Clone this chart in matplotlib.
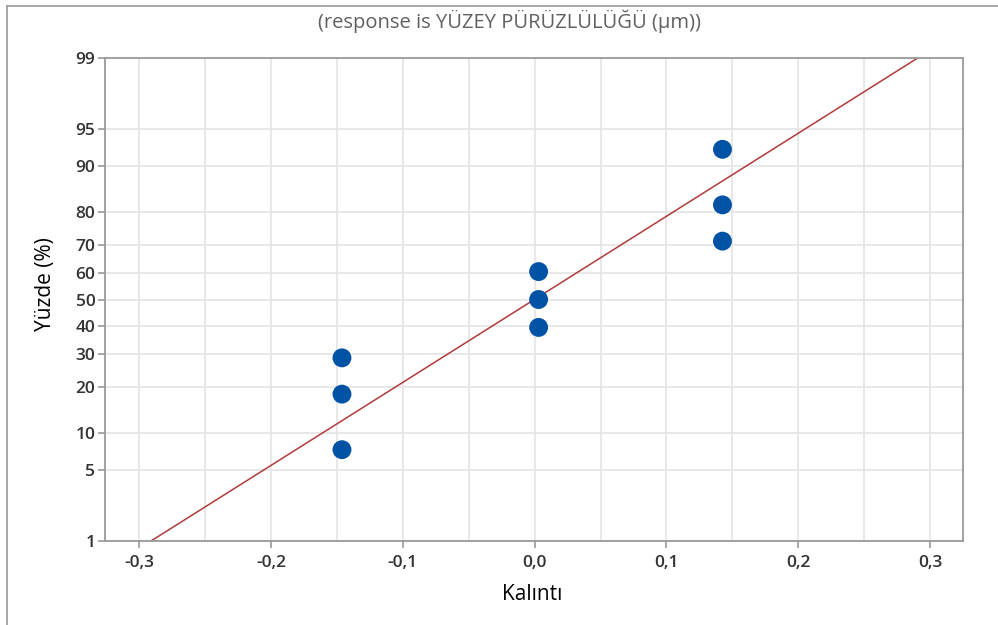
from statistics import NormalDist

import numpy as np
import matplotlib
matplotlib.use("Agg")
import matplotlib.pyplot as plt
from matplotlib.lines import Line2D
from matplotlib.ticker import FixedLocator, MultipleLocator, FuncFormatter, NullLocator

# residuals (Kalinti) and their normal plotting positions (Yuzde, %)
residuals = [-0.1462, -0.1462, -0.1462, 0.0030, 0.0030, 0.0030, 0.1425, 0.1425, 0.1425]
percents = [7.4, 18.1, 28.7, 39.4, 50.0, 60.6, 71.3, 81.9, 92.6]
y_ticks = [1, 5, 10, 20, 30, 40, 50, 60, 70, 80, 90, 95, 99]

title = "(response is YÜZEY PÜRÜZLÜLÜĞÜ (µm))"
xlabel = "Kalıntı"
ylabel = "Yüzde (%)"

plt.rcParams['font.family'] = ['Open Sans', 'DejaVu Sans']

_nd = NormalDist()
_ppf = np.vectorize(_nd.inv_cdf, otypes=[float])
_cdf = np.vectorize(_nd.cdf, otypes=[float])


def prob_fwd(p):
    p = np.clip(np.asarray(p, dtype=float) / 100.0, 1e-9, 1 - 1e-9)
    return _ppf(p)


def prob_inv(z):
    return _cdf(np.asarray(z, dtype=float)) * 100.0


fig = plt.figure(figsize=(9.98, 6.25), dpi=100)
ax = fig.add_axes([105 / 998, 1 - 541 / 625, 858 / 998, 483 / 625])
ax.set_yscale('function', functions=(prob_fwd, prob_inv))
ax.set_ylim(1, 99)
ax.set_xlim(-0.326, 0.325)

# fitted normal line from the residuals
mu = np.mean(residuals)
sd = np.std(residuals, ddof=1)
fit = NormalDist(mu, sd)
line_p = [1, 99]
line_x = [fit.inv_cdf(p / 100) for p in line_p]
ax.plot(line_x, line_p, color='#b03a3a', lw=1.1, zorder=2)

ax.scatter(residuals, percents, s=185, color='#0052a5', edgecolors='none', zorder=3)

ax.yaxis.set_major_locator(FixedLocator(y_ticks))
ax.yaxis.set_minor_locator(NullLocator())
ax.yaxis.set_major_formatter(FuncFormatter(lambda v, _: f"{v:g}"))
ax.xaxis.set_major_locator(MultipleLocator(0.1))
ax.xaxis.set_minor_locator(MultipleLocator(0.05))
ax.xaxis.set_major_formatter(FuncFormatter(lambda v, _: f"{round(v, 1) + 0:.1f}".replace('.', ',')))

ax.grid(True, which='major', color='#e6e6e6', lw=1.3)
ax.grid(True, which='minor', axis='x', color='#e6e6e6', lw=1.3)
ax.set_axisbelow(True)

for sp in ax.spines.values():
    sp.set_color('#9a9a9a')
    sp.set_linewidth(1.3)
ax.tick_params(which='major', length=5, width=1.2, color='#9a9a9a', labelcolor='#333333',
               labelsize=12.5, pad=2)
ax.tick_params(which='minor', length=0)
ax.tick_params(axis='x', pad=5)
for lab in ax.get_xticklabels() + ax.get_yticklabels():
    lab.set_fontweight('semibold')

fig.text(0.511, 1 - 21 / 625, title, ha='center', va='center', fontsize=14.5, color='#606060')
fig.text(532 / 998, 1 - 595 / 625, xlabel, ha='center', va='center', fontsize=15, color='#000000')
fig.text(45 / 998, 1 - 284 / 625, ylabel, ha='center', va='center', rotation=90,
         fontsize=15, color='#000000')

# outer frame of the graph window
fig.add_artist(Line2D([7 / 998, 7 / 998], [0, 1 - 6 / 625], transform=fig.transFigure,
                      color='#a0a0a0', lw=1.3))
fig.add_artist(Line2D([7 / 998, 1], [1 - 6 / 625, 1 - 6 / 625], transform=fig.transFigure,
                      color='#a0a0a0', lw=1.3))

fig.savefig("out.png", dpi=100)
